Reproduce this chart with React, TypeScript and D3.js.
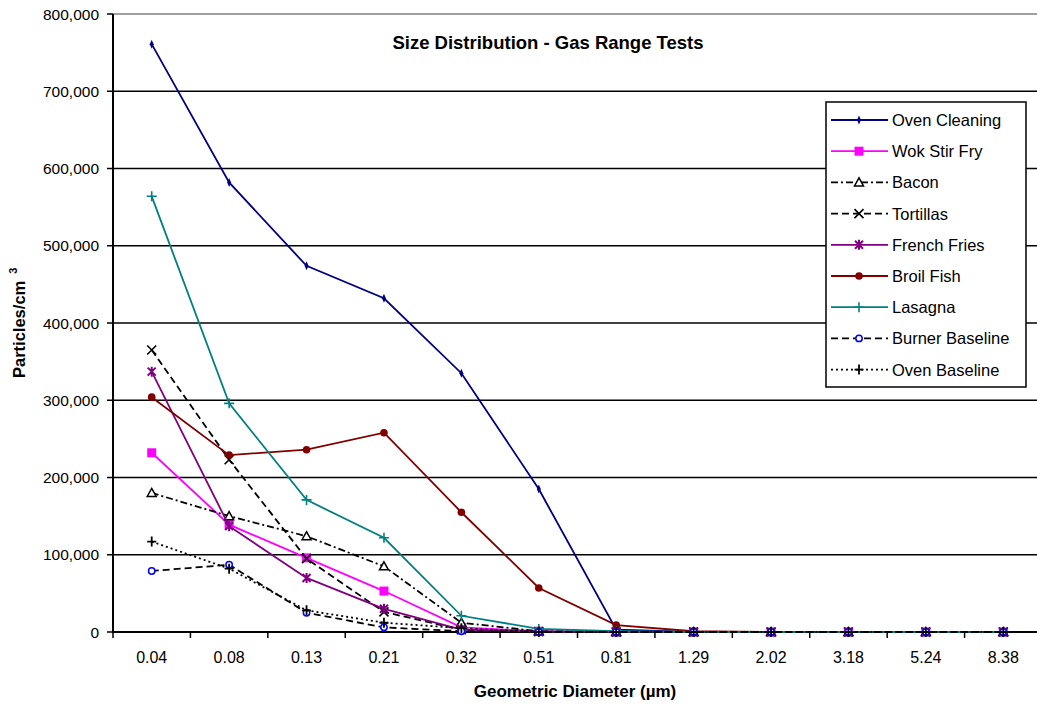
import React from 'react';
import * as d3 from 'd3';

const diameters = ['0.04', '0.08', '0.13', '0.21', '0.32', '0.51', '0.81', '1.29', '2.02', '3.18', '5.24', '8.38'];
const ovenCleaning = [761000, 582000, 474000, 432000, 335000, 185000, 3000, 0, 0, 0, 0, 0];
const wokStirFry = [232000, 139000, 96000, 53000, 6000, 1000, 0, 0, 0, 0, 0, 0];
const bacon = [180000, 150000, 124000, 85000, 12000, 1000, 0, 0, 0, 0, 0, 0];
const tortillas = [365000, 223000, 95000, 26000, 3000, 500, 0, 0, 0, 0, 0, 0];
const frenchFries = [337000, 137000, 70000, 30000, 3000, 500, 0, 0, 0, 0, 0, 0];
const broilFish = [304000, 229000, 236000, 258000, 155000, 57000, 9000, 1000, 0, 0, 0, 0];
const lasagna = [564000, 296000, 171000, 122000, 21000, 4000, 1000, 0, 0, 0, 0, 0];
const burnerBaseline = [79000, 87000, 25000, 6000, 1000, 0, 0, 0, 0, 0, 0, 0];
const ovenBaseline = [117000, 82000, 28000, 12000, 5000, 0, 0, 0, 0, 0, 0, 0];
const yTicks = [0, 100000, 200000, 300000, 400000, 500000, 600000, 700000, 800000];

type Marker = 'diamond' | 'square' | 'triangle' | 'x' | 'star' | 'dot' | 'plus' | 'ring' | 'cross';

const series: { name: string; values: number[]; color: string; dash: string; marker: Marker; mcolor: string }[] = [
  { name: 'Oven Cleaning', values: ovenCleaning, color: '#000080', dash: '', marker: 'diamond', mcolor: '#000080' },
  { name: 'Wok Stir Fry', values: wokStirFry, color: '#ff00ff', dash: '', marker: 'square', mcolor: '#ff00ff' },
  { name: 'Bacon', values: bacon, color: '#000000', dash: '7,3,2,3', marker: 'triangle', mcolor: '#000000' },
  { name: 'Tortillas', values: tortillas, color: '#000000', dash: '7,4', marker: 'x', mcolor: '#000000' },
  { name: 'French Fries', values: frenchFries, color: '#800080', dash: '', marker: 'star', mcolor: '#800080' },
  { name: 'Broil Fish', values: broilFish, color: '#800000', dash: '', marker: 'dot', mcolor: '#800000' },
  { name: 'Lasagna', values: lasagna, color: '#008080', dash: '', marker: 'plus', mcolor: '#008080' },
  { name: 'Burner Baseline', values: burnerBaseline, color: '#000000', dash: '7,4', marker: 'ring', mcolor: '#0000ff' },
  { name: 'Oven Baseline', values: ovenBaseline, color: '#000000', dash: '2,3', marker: 'cross', mcolor: '#000000' },
];

const W = 1037;
const H = 704;
const left = 113;
const right = 1042;
const top = 14;
const bottom = 632;

const MarkerShape: React.FC<{ kind: Marker; x: number; y: number; color: string }> = ({ kind, x, y, color }) => {
  switch (kind) {
    case 'diamond':
      return <path d={`M${x},${y - 4.5}L${x + 2},${y}L${x},${y + 4.5}L${x - 2},${y}Z`} fill={color} />;
    case 'square':
      return <rect x={x - 4.5} y={y - 4.5} width={9} height={9} fill={color} />;
    case 'triangle':
      return <path d={`M${x},${y - 4.5}L${x + 4.5},${y + 3.5}L${x - 4.5},${y + 3.5}Z`} fill="white" stroke={color} strokeWidth={1.5} />;
    case 'x':
      return <path d={`M${x - 4.5},${y - 4.5}L${x + 4.5},${y + 4.5}M${x + 4.5},${y - 4.5}L${x - 4.5},${y + 4.5}`} stroke={color} strokeWidth={1.6} />;
    case 'star':
      return <path d={`M${x - 4},${y - 4}L${x + 4},${y + 4}M${x + 4},${y - 4}L${x - 4},${y + 4}M${x},${y - 5}L${x},${y + 5}`} stroke={color} strokeWidth={2} />;
    case 'dot':
      return <circle cx={x} cy={y} r={3.8} fill={color} />;
    case 'plus':
      return <path d={`M${x - 5},${y}L${x + 5},${y}M${x},${y - 5}L${x},${y + 5}`} stroke={color} strokeWidth={1.6} />;
    case 'ring':
      return <circle cx={x} cy={y} r={3.2} fill="white" stroke={color} strokeWidth={1.5} />;
    case 'cross':
      return <path d={`M${x - 4.5},${y}L${x + 4.5},${y}M${x},${y - 5}L${x},${y + 5}`} stroke={color} strokeWidth={1.8} />;
  }
  return null;
};

export default function App() {
  const x = d3.scaleBand<string>().domain(diameters).range([left, right]).padding(0);
  const y = d3.scaleLinear().domain([0, 800000]).range([bottom, top]);
  const cx = (d: string) => (x(d) ?? 0) + x.bandwidth() / 2;
  const fmt = d3.format(',');
  const line = d3
    .line<number>()
    .x((_, i) => cx(diameters[i]))
    .y(d => y(d));

  const font = 'Liberation Sans, Arial, sans-serif';
  const legX = 826;
  const legY = 102;
  const legStep = 31.2;

  return (
    <svg width={W} height={H} style={{ position: 'absolute', left: 0, top: 0, background: 'white' }} fontFamily={font}>
      {yTicks.map(t => (
        <g key={t}>
          {t > 0 && (
            <line x1={left} x2={right} y1={y(t)} y2={y(t)} stroke={t === 800000 ? '#808080' : '#000'} strokeWidth={t === 800000 ? 1.5 : 1.4} />
          )}
          <line x1={left - 6} x2={left} y1={y(t)} y2={y(t)} stroke="#000" strokeWidth={1.5} />
          <text x={left - 14} y={y(t)} dy="0.36em" textAnchor="end" fontSize={15.5} fill="#000">
            {fmt(t)}
          </text>
        </g>
      ))}
      <line x1={left} x2={left} y1={top} y2={bottom + 1} stroke="#000" strokeWidth={2} />
      <line x1={left} x2={right} y1={bottom} y2={bottom} stroke="#000" strokeWidth={2} />
      {diameters.map((d, i) => (
        <g key={d}>
          <line x1={x(d)} x2={x(d)} y1={bottom} y2={bottom + 6} stroke="#000" strokeWidth={1.5} />
          {i === diameters.length - 1 && (
            <line x1={right} x2={right} y1={bottom} y2={bottom + 6} stroke="#000" strokeWidth={1.5} />
          )}
          <text x={cx(d)} y={663} textAnchor="middle" fontSize={16} fill="#000">
            {d}
          </text>
        </g>
      ))}

      {series.map(s => (
        <g key={s.name}>
          <path d={line(s.values) ?? ''} fill="none" stroke={s.color} strokeWidth={1.8} strokeDasharray={s.dash || undefined} />
          {s.values.map((v, i) => (
            <MarkerShape key={i} kind={s.marker} x={cx(diameters[i])} y={y(v)} color={s.mcolor} />
          ))}
        </g>
      ))}

      <text x={548} y={49} textAnchor="middle" fontSize={18.5} fontWeight="bold" fill="#000">
        Size Distribution - Gas Range Tests
      </text>
      <text x={575} y={697} textAnchor="middle" fontSize={17} fontWeight="bold" fill="#000">
        Geometric Diameter (µm)
      </text>
      <text transform="translate(25,378) rotate(-90)" textAnchor="start" fontSize={16.5} fontWeight="bold" fill="#000">
        Particles/cm<tspan fontSize={11} dy={-8} dx={7}>3</tspan>
      </text>

      <rect x={legX} y={legY} width={200} height={285} fill="white" stroke="#000" strokeWidth={1.5} />
      {series.map((s, i) => {
        const ly = legY + 18 + i * legStep;
        return (
          <g key={s.name}>
            <line x1={legX + 5} x2={legX + 62} y1={ly} y2={ly} stroke={s.color} strokeWidth={1.8} strokeDasharray={s.dash || undefined} />
            <MarkerShape kind={s.marker} x={legX + 33} y={ly} color={s.mcolor} />
            <text x={legX + 66} y={ly} dy="0.36em" fontSize={16.5} fill="#000">
              {s.name}
            </text>
          </g>
        );
      })}
    </svg>
  );
}
